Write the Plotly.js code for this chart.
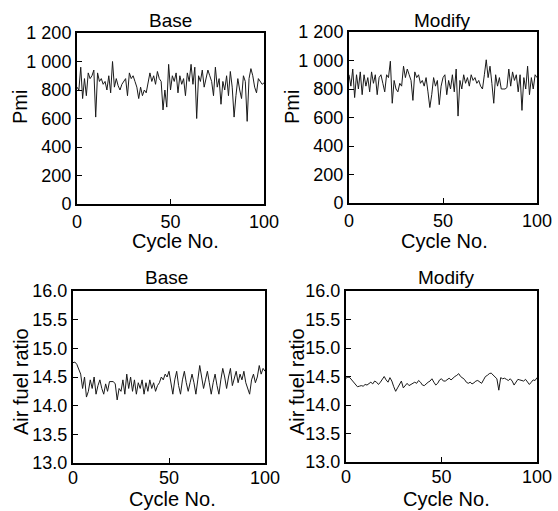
<!DOCTYPE html>
<html>
<head>
<meta charset="utf-8">
<script src="https://cdn.plot.ly/plotly-3.0.1.min.js"></script>
<style>html,body{margin:0;padding:0;background:#fff;}#chart{width:558px;height:511px;}</style>
</head>
<body>
<div id="chart"></div>
<script>
const cycles = [0,1,2,3,4,5,6,7,8,9,10,11,12,13,14,15,16,17,18,19,20,21,22,23,24,25,26,27,28,29,30,31,32,33,34,35,36,37,38,39,40,41,42,43,44,45,46,47,48,49,50,51,52,53,54,55,56,57,58,59,60,61,62,63,64,65,66,67,68,69,70,71,72,73,74,75,76,77,78,79,80,81,82,83,84,85,86,87,88,89,90,91,92,93,94,95,96,97,98,99,100];

const pmiBase = [820,800,960,740,880,760,920,880,900,940,610,920,860,880,840,860,800,900,780,1000,820,880,830,800,840,860,880,760,920,880,900,860,820,740,820,760,800,780,860,920,860,900,840,930,880,860,660,800,680,980,800,900,860,920,780,900,840,880,760,920,860,980,840,960,600,900,860,940,820,880,940,900,860,760,960,820,880,700,860,800,900,760,930,820,610,760,880,800,740,900,860,580,880,950,900,820,780,880,860,840,850];

const pmiModify = [900,820,940,740,900,800,920,760,900,820,880,780,920,840,900,760,880,900,840,780,900,880,995,700,860,800,780,840,820,960,880,940,900,860,720,920,880,900,840,860,820,880,780,670,760,880,820,860,690,820,880,900,760,860,800,900,780,940,610,860,800,900,840,880,820,900,860,880,840,860,820,800,900,1005,880,960,840,700,900,820,880,800,800,800,810,940,820,920,860,900,780,900,650,880,800,960,760,880,800,900,880];

const afrBase = [14.75,14.76,14.72,14.62,14.55,14.3,14.5,14.15,14.25,14.45,14.3,14.5,14.2,14.35,14.45,14.3,14.2,14.38,14.25,14.42,14.42,14.42,14.38,14.1,14.3,14.25,14.45,14.2,14.55,14.3,14.5,14.25,14.45,14.2,14.4,14.3,14.45,14.2,14.4,14.25,14.45,14.3,14.4,14.25,14.35,14.4,14.5,14.45,14.55,14.5,14.6,14.4,14.2,14.45,14.6,14.35,14.2,14.45,14.6,14.4,14.25,14.4,14.55,14.4,14.2,14.45,14.7,14.5,14.3,14.45,14.6,14.4,14.2,14.4,14.55,14.35,14.2,14.45,14.65,14.5,14.3,14.5,14.65,14.35,14.5,14.6,14.4,14.55,14.45,14.6,14.4,14.3,14.2,14.45,14.55,14.4,14.5,14.7,14.55,14.65,14.6];

const afrModify = [14.47,14.49,14.48,14.44,14.4,14.36,14.32,14.33,14.34,14.33,14.36,14.35,14.38,14.4,14.37,14.42,14.4,14.36,14.4,14.45,14.5,14.44,14.4,14.48,14.42,14.32,14.24,14.3,14.36,14.42,14.3,14.35,14.38,14.34,14.36,14.38,14.4,14.38,14.43,14.4,14.35,14.34,14.38,14.4,14.42,14.46,14.4,14.35,14.38,14.44,14.46,14.42,14.42,14.45,14.47,14.44,14.48,14.5,14.52,14.55,14.5,14.47,14.45,14.4,14.38,14.4,14.37,14.39,14.42,14.43,14.4,14.38,14.44,14.5,14.52,14.55,14.56,14.52,14.48,14.46,14.26,14.48,14.46,14.47,14.45,14.43,14.46,14.42,14.35,14.4,14.45,14.44,14.43,14.42,14.45,14.4,14.36,14.4,14.44,14.43,14.48];

const xTickVals = [0,50,100];
const xTickText = ['0','50','100'];
const pmiTickVals = [0,200,400,600,800,1000,1200];
const pmiTickText = ['0','200','400','600','800','1 000','1 200'];
const afrTickVals = [13,13.5,14,14.5,15,15.5,16];
const afrTickText = ['13.0','13.5','14.0','14.5','15.0','15.5','16.0'];

const panelTitles = ['Base','Modify','Base','Modify'];
const xTitle = 'Cycle No.';
const yTitles = ['Pmi','Pmi','Air fuel ratio','Air fuel ratio'];

const W = 558, H = 511;
const FONT = 'Arial, "Liberation Sans", sans-serif';
const LINE = '#1a1a1a';

// pixel boxes [left, right, top, bottom]
const boxes = [[77,264,33,204],[349,537,32,203],[73,265,291,463],[346,537,291,462]];

function xd(b){return [b[0]/W, b[1]/W];}
function yd(b){return [1-b[3]/H, 1-b[2]/H];}

const series = [pmiBase, pmiModify, afrBase, afrModify];
const traces = series.map((s,i)=>({
  x: cycles, y: s, type:'scatter', mode:'lines',
  line:{color:LINE, width:1},
  xaxis: i===0?'x':'x'+(i+1), yaxis: i===0?'y':'y'+(i+1),
  hoverinfo:'skip', showlegend:false
}));

const layout = {
  width: W, height: H,
  margin:{l:0,r:0,t:0,b:0},
  paper_bgcolor:'#fff', plot_bgcolor:'#fff',
  font:{family:FONT, size:18, color:'#000'},
  showlegend:false,
  annotations:[]
};

for (let i=0;i<4;i++){
  const b = boxes[i];
  const sx = i===0?'':String(i+1);
  const isPmi = i<2;
  layout['xaxis'+sx] = {
    domain: xd(b), range:[0,100], anchor:'y'+sx,
    tickvals:xTickVals, ticktext:xTickText,
    ticks:'inside', ticklen:5, tickwidth:1, tickcolor:'#000',
    ticklabelstandoff: isPmi ? 0 : -3,
    showline:true, linecolor:'#000', linewidth:2, mirror:true,
    showgrid:false, zeroline:false,
    tickfont:{family:FONT,size:18,color:'#000'}
  };
  layout['yaxis'+sx] = {
    domain: yd(b), anchor:'x'+sx,
    range: isPmi?[0,1200]:[13,16],
    tickvals: isPmi?pmiTickVals:afrTickVals,
    ticktext: isPmi?pmiTickText:afrTickText,
    ticks:'inside', ticklen:5, tickwidth:1, tickcolor:'#000',
    showline:true, linecolor:'#000', linewidth:2, mirror:true,
    showgrid:false, zeroline:false,
    tickfont:{family:FONT,size:18,color:'#000'}
  };
}

const titlePos = [[170,20],[442,20],[166,277],[446,277]];
const xTitlePos = [[175,241],[444,241],[172,499],[446,499]];
const yTitlePos = [[20,107],[292,107],[21,382],[297,382]];
for (let i=0;i<4;i++){
  layout.annotations.push({text:panelTitles[i], x:titlePos[i][0]/W, y:1-titlePos[i][1]/H, xref:'paper', yref:'paper', xanchor:'center', yanchor:'middle', showarrow:false, font:{family:FONT,size:19,color:'#000'}});
  layout.annotations.push({text:xTitle, x:xTitlePos[i][0]/W, y:1-xTitlePos[i][1]/H, xref:'paper', yref:'paper', xanchor:'center', yanchor:'middle', showarrow:false, font:{family:FONT,size:20,color:'#000'}});
  layout.annotations.push({text:yTitles[i], x:yTitlePos[i][0]/W, y:1-yTitlePos[i][1]/H, xref:'paper', yref:'paper', xanchor:'center', yanchor:'middle', textangle:-90, showarrow:false, font:{family:FONT,size:20,color:'#000'}});
}

Plotly.newPlot('chart', traces, layout, {staticPlot:true, displayModeBar:false});
</script>
</body>
</html>
